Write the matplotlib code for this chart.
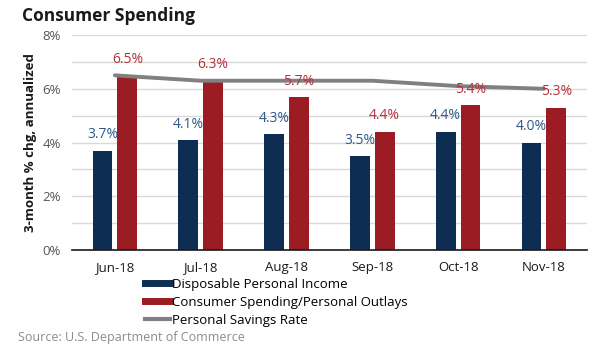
import matplotlib
matplotlib.use("Agg")
import matplotlib.pyplot as plt
from matplotlib.lines import Line2D
import numpy as np

plt.rcParams['font.family'] = ['Open Sans', 'DejaVu Sans']

# ---------- DATA ----------
months = ["Jun-18", "Jul-18", "Aug-18", "Sep-18", "Oct-18", "Nov-18"]
income = [3.7, 4.1, 4.3, 3.5, 4.4, 4.0]
spending = [6.5, 6.3, 5.7, 4.4, 5.4, 5.3]
savings = [6.5, 6.3, 6.3, 6.3, 6.1, 6.0]

BLUE = "#0d2d52"
RED = "#9b1c22"
GRAY = "#808080"
BLUE_TXT = "#2f5887"
RED_TXT = "#b3323b"

# ---------- PLOT ----------
fig = plt.figure(figsize=(6.1, 3.47), dpi=100)
ax = fig.add_axes([0.118, 0.2795, 0.844, 0.6195])

x = np.arange(len(months))
w = 0.23
off = 0.145

ax.bar(x - off, income, w, color=BLUE, zorder=2)
ax.bar(x + off, spending, w, color=RED, zorder=2)
ax.plot(x, savings, color=GRAY, linewidth=2.8, zorder=3, solid_capstyle='round')

for i in range(len(months)):
    ax.annotate(f"{income[i]:.1f}%", (x[i] - off, income[i]), xytext=(0, 6),
                textcoords="offset points", ha="center", va="bottom",
                color=BLUE_TXT, fontsize=10)
    ax.annotate(f"{spending[i]:.1f}%", (x[i] + off, spending[i]), xytext=(0, 6),
                textcoords="offset points", ha="center", va="bottom",
                color=RED_TXT, fontsize=10)

ax.set_xlim(-0.5, 5.5)
ax.set_ylim(0, 8)
ax.set_yticks([0, 2, 4, 6, 8])
ax.set_yticklabels(["0%", "2%", "4%", "6%", "8%"])
ax.set_yticks(np.arange(0, 9, 1), minor=True)
ax.grid(True, axis="y", which="both", color="#d9d9d9", linewidth=1, zorder=0)
ax.set_axisbelow(True)
ax.set_xticks(x)
ax.set_xticklabels(months)
ax.tick_params(axis="both", which="both", length=0)
ax.tick_params(axis="y", colors="#555555", labelsize=9.5, pad=8)
ax.tick_params(axis="x", colors="#1a1a1a", labelsize=9.5, pad=8)

for s in ["top", "right", "left"]:
    ax.spines[s].set_visible(False)
ax.spines["bottom"].set_color("#1a1a1a")
ax.spines["bottom"].set_linewidth(1.2)

ax.set_ylabel("3-month % chg, annualized", fontsize=9.5, fontweight="bold",
              color="#1a1a1a", labelpad=4)

fig.text(0.036, 0.955, "Consumer Spending", fontsize=12.5, fontweight="bold",
         color="#1a1a1a", va="center", ha="left")

handles = [
    Line2D([0], [0], color=BLUE, linewidth=5),
    Line2D([0], [0], color=RED, linewidth=5),
    Line2D([0], [0], color=GRAY, linewidth=3),
]
labels = ["Disposable Personal Income", "Consumer Spending/Personal Outlays",
          "Personal Savings Rate"]
fig.legend(handles, labels, loc="upper left", bbox_to_anchor=(0.238, 0.2),
           frameon=False, fontsize=9.5, handlelength=1.9, handletextpad=0.15,
           labelspacing=0.38, borderaxespad=0, borderpad=0)

fig.text(0.03, 0.028, "Source: U.S. Department of Commerce", fontsize=9,
         color="#8c8c8c", ha="left", va="center")

fig.savefig("out.png", dpi=100)
